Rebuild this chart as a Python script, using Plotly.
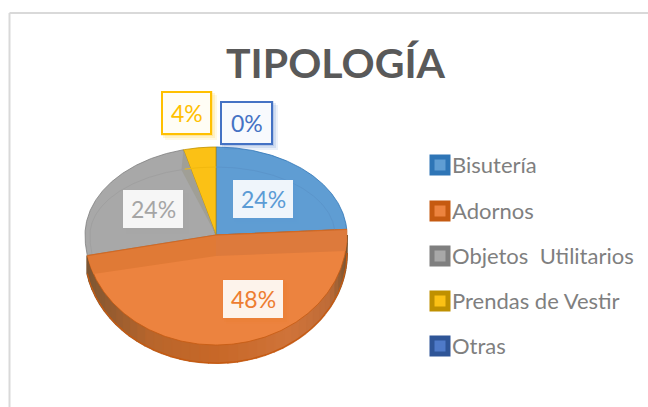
import numpy as np
import plotly.graph_objects as go

# ---- data ----
title_text = "TIPOLOGÍA"
categories = ["Bisutería", "Adornos", "Objetos  Utilitarios", "Prendas de Vestir", "Otras"]
values = [6, 12, 6, 1, 0]

# ---- styles ----
fills = ["#5F9DD3", "#EC833F", "#A8A8A8", "#FBC115", "#4F7AC8"]
edges = ["#2E75B6", "#C55A11", "#7F7F7F", "#BF9000", "#2F5597"]
inner = ["#5B95CB", None, "#A0A0A0", "#F2B90F", None]
label_colors = ["#5B9BD5", "#ED7D31", "#A5A5A5", "#FFC000", "#4472C4"]
label_boxes = [(233, 180, 293, 218), (223, 280, 283, 318), (123, 190, 183, 228),
               (162, 92, 211, 134), (221, 102, 272, 144)]
boxed = [False, False, False, True, True]
legend_y = [165, 211, 256, 301, 346]
LEG_MARK_X, LEG_TEXT_X = 440, 452
FONT = "Lato"

# ---- projection of the tilted pie (pixel-like axes) ----
CX, CY, RX, RT, RB, DEPTH, WALL = 216, 235, 131, 88, 110, 18, 21


def proj(deg, rx=RX, rt=RT, rb=RB, dy=0):
    t = np.radians(deg)
    c = np.cos(t)
    return CX + rx * np.sin(t), CY + dy - c * np.where(c > 0, rt, rb)


total = sum(values)
cum = np.cumsum([0] + values) / total * 360

fig = go.Figure()


def poly(xs, ys, fill, line=None, width=0):
    fig.add_trace(go.Scatter(
        x=list(xs), y=list(ys), mode="lines", fill="toself", fillcolor=fill,
        line=dict(color=line or fill, width=width), hoverinfo="skip", showlegend=False))


def curve(xs, ys, color, width=1):
    fig.add_trace(go.Scatter(x=list(xs), y=list(ys), mode="lines",
                             line=dict(color=color, width=width),
                             hoverinfo="skip", showlegend=False))


# side wall of the pie, only visible under the front slice
stops_x = [85, 110, 150, 216, 290, 330, 347]
stops_rgb = np.array([[122, 86, 52], [150, 92, 48], [184, 102, 44], [200, 104, 40],
                      [208, 116, 58], [190, 108, 56], [120, 84, 50]], float)
a0, a1 = max(cum[1], 90), min(cum[2], 270)
edges_deg = np.linspace(a0, a1, 41)
for d0, d1 in zip(edges_deg[:-1], edges_deg[1:]):
    aa = np.linspace(d0, d1, 4)
    x, y = proj(aa)
    xb, yb = proj(aa[::-1], dy=DEPTH)
    xm = (x[0] + x[-1]) / 2
    rgb = [np.interp(xm, stops_x, stops_rgb[:, k]) for k in range(3)]
    col = "rgb(%d,%d,%d)" % tuple(rgb)
    poly(np.r_[x, xb], np.r_[y, yb], col, col, 2)
aa = np.linspace(a0, a1, 160)
xb, yb = proj(aa, dy=DEPTH)
curve(xb, yb, edges[1], 1.2)

# top surface of each slice
for i, v in enumerate(values):
    if v == 0:
        continue
    aa = np.linspace(cum[i], cum[i + 1], 200)
    x, y = proj(aa)
    poly(np.r_[CX, x, CX], np.r_[CY, y, CY], fills[i], edges[i], 0.8)

# wall of the grey slice seen through the surface, beside the yellow slice
ang_g = cum[3]
xo, yo = proj(ang_g)
gx, gy = proj(ang_g - 2.5, rx=119, rt=68)
poly([CX, xo, gx, CX], [CY, yo, gy, CY], "#A09F96")

# faint inner back rim seen through the transparent surface
for i in (0, 2, 3):
    aa = np.linspace(cum[i], cum[i + 1], 100)
    rx = 119 if i == 0 else 126
    x, y = proj(aa, rx=rx, rt=68)
    curve(x, y, inner[i], 1)

# darker band of the front slice: the cut walls seen through it
ang_r = np.degrees(np.arccos(-16 / RB))
ang_l = 360 - np.degrees(np.arccos(-39 / RB))
arc_r = np.linspace(cum[1], ang_r, 20)
arc_l = np.linspace(ang_l, cum[2], 20)
xr, yr = proj(arc_r)
xl, yl = proj(arc_l)
poly(np.r_[CX, xr, CX], np.r_[CY, yr, CY + WALL], "#DD7A3C")
poly(np.r_[CX, CX, xl, CX], np.r_[CY, CY + WALL, yl, CY], "#E07A36")
xt, yt = proj(np.array([cum[1]]))
xe, ye = proj(np.array([cum[2]]))
curve([xt[0], CX, xe[0]], [yt[0], CY, ye[0]], "#D06A26", 1.2)

# legend swatches
fig.add_trace(go.Scatter(
    x=[LEG_MARK_X] * len(categories), y=legend_y, mode="markers",
    marker=dict(symbol="square", size=16, color=fills, line=dict(color=edges, width=5)),
    hoverinfo="skip", showlegend=False))

shapes = [
    dict(type="line", xref="x", yref="y", x0=9.5, x1=9.5, y0=13, y1=407,
         line=dict(color="#D9D9D9", width=2)),
    dict(type="line", xref="x", yref="y", x0=9.5, x1=648, y0=13, y1=13,
         line=dict(color="#D9D9D9", width=2)),
]
annotations = [dict(x=336, y=62, text=f"<b>{title_text}</b>", showarrow=False,
                    xref="x", yref="y",
                    font=dict(family=FONT, size=41, color="#595959"))]


def rgba(hexc, a):
    return "rgba(%d,%d,%d,%.2f)" % (int(hexc[1:3], 16), int(hexc[3:5], 16), int(hexc[5:7], 16), a)


for i, v in enumerate(values):
    x0, y0, x1, y1 = label_boxes[i]
    c = label_colors[i]
    for off, alpha in ((6, 0.10), (4, 0.15), (2, 0.2)):
        shapes.append(dict(type="rect", xref="x", yref="y", x0=x0 + off - 3, x1=x1 + off,
                           y0=y0 + off - 3, y1=y1 + off, fillcolor=rgba(c, alpha), line=dict(width=0)))
    shapes.append(dict(type="rect", xref="x", yref="y", x0=x0, x1=x1, y0=y0, y1=y1,
                       fillcolor="rgba(255,255,255,0.90)",
                       line=dict(color=c, width=2) if boxed[i] else dict(width=0)))
    annotations.append(dict(x=(x0 + x1) / 2, y=(y0 + y1) / 2, xref="x", yref="y",
                            text=f"{round(v / total * 100)}%", showarrow=False,
                            font=dict(family=FONT, size=23, color=c)))

for name, y in zip(categories, legend_y):
    annotations.append(dict(x=LEG_TEXT_X - 2, y=y - 1, xref="x", yref="y", text=name.replace("  ", "&nbsp; "),
                            xanchor="left", showarrow=False,
                            font=dict(family=FONT, size=22, color="#7F7F7F")))

fig.update_layout(
    width=648, height=407, margin=dict(l=0, r=0, t=0, b=0),
    paper_bgcolor="white", plot_bgcolor="white", showlegend=False,
    xaxis=dict(range=[0, 648], visible=False, fixedrange=True),
    yaxis=dict(range=[407, 0], visible=False, fixedrange=True),
    shapes=shapes, annotations=annotations,
)
fig.write_html("out.html", config=dict(displayModeBar=False),
               post_script="document.body.style.margin='0';document.body.style.overflow='hidden';")
